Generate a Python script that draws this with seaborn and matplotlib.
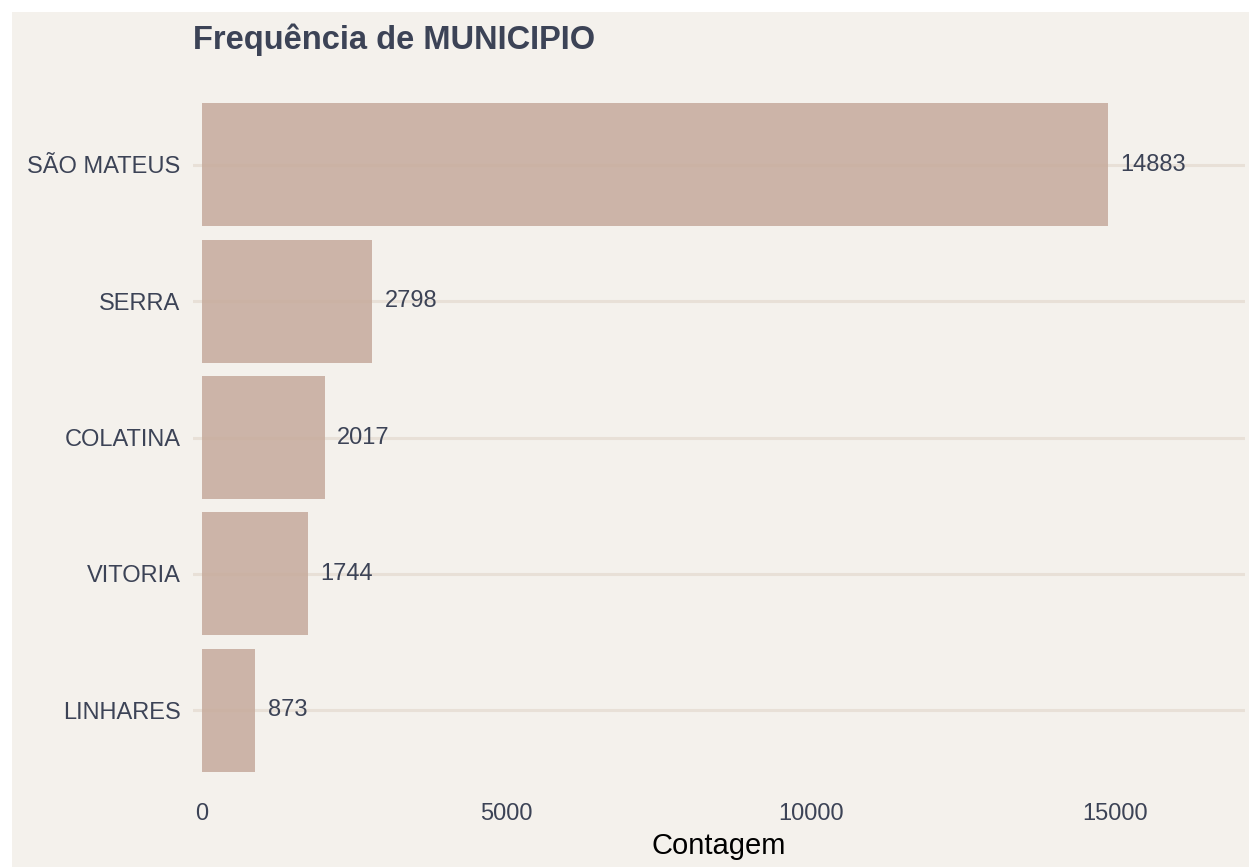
#!/usr/bin/env python3
# encoding: utf-8
"""
Gráfico de barras horizontais: frequência de MUNICIPIO.
"""

import matplotlib
matplotlib.use('Agg')
import matplotlib.pyplot as plt
import seaborn as sns
import pandas as pd
from matplotlib.patches import Rectangle

# Dados
municipios = ['SÃO MATEUS', 'SERRA', 'COLATINA', 'VITORIA', 'LINHARES']
contagens = [14883, 2798, 2017, 1744, 873]
ticks_x = [0, 5000, 10000, 15000]

COR_FUNDO = '#F4F1EC'
COR_BARRA = '#C6AA9C'
COR_GRADE = '#E8E0D7'
COR_TEXTO = '#3C4356'

sns.set_theme(style='white')
plt.rcParams['font.family'] = ['Liberation Sans', 'DejaVu Sans']

df = pd.DataFrame({'municipio': municipios, 'contagem': contagens})

fig = plt.figure(figsize=(12.49, 8.67), dpi=100)
fig.patch.set_facecolor('white')
# painel de fundo bege (com margem branca em cima e à esquerda)
fig.patches.append(Rectangle((12 / 1249, 0), 1, 1 - 12 / 867,
                             transform=fig.transFigure, facecolor=COR_FUNDO,
                             edgecolor='none', zorder=-10))

ax = fig.add_axes([193 / 1249, (867 - 792) / 867, (1245 - 193) / 1249, (792 - 83) / 867])
ax.set_facecolor(COR_FUNDO)

sns.barplot(data=df, x='contagem', y='municipio', order=municipios, orient='h',
            color=COR_BARRA, alpha=0.85, width=0.9, saturation=1, linewidth=0,
            edgecolor='none', ax=ax, zorder=2)

# grade horizontal
for i in range(len(municipios)):
    ax.axhline(i, color=COR_GRADE, linewidth=2.2, zorder=1)

# rótulos de valor
for i, v in enumerate(contagens):
    ax.annotate(str(v), xy=(v, i), xytext=(9, 0), textcoords='offset points',
                va='center', ha='left', fontsize=17, color=COR_TEXTO, zorder=3)

ax.set_xlim(-148, 17130)
ax.set_ylim(len(municipios) - 1 + 0.6, -0.6)
ax.set_xticks(ticks_x)
ax.set_xticklabels([str(t) for t in ticks_x])
ax.tick_params(axis='both', length=0, labelsize=17, labelcolor=COR_TEXTO)
ax.tick_params(axis='x', pad=8)
ax.tick_params(axis='y', pad=9)
for s in ax.spines.values():
    s.set_visible(False)
ax.grid(False)

ax.set_xlabel('Contagem', fontsize=21, color='black', labelpad=5)
ax.set_ylabel('')

fig.text(193 / 1249, 1 - 40 / 867, 'Frequência de MUNICIPIO', fontsize=23.5, fontweight='bold',
         color=COR_TEXTO, ha='left', va='center')

plt.savefig('out.png', dpi=100)
plt.close()
